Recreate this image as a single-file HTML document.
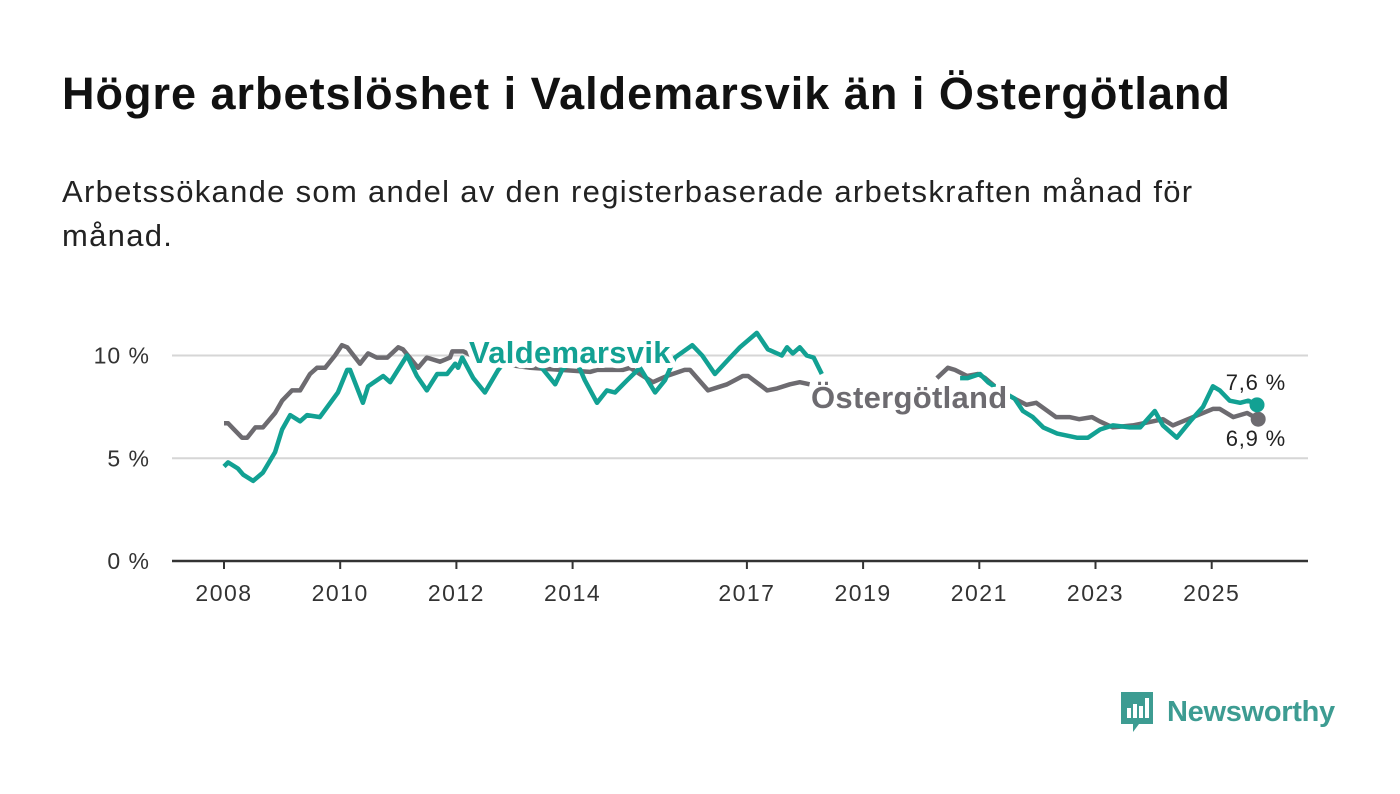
<!DOCTYPE html>
<html><head><meta charset="utf-8">
<style>
body{margin:0;width:1400px;height:794px;background:#fff;font-family:"Liberation Sans",sans-serif;overflow:hidden;position:relative}
h1{position:absolute;left:62px;top:68px;margin:0;font-size:45px;font-weight:bold;color:#111;letter-spacing:1px;white-space:nowrap}
.sub{position:absolute;left:62px;top:170px;margin:0;font-size:31px;line-height:44px;color:#222;width:1320px;letter-spacing:1.3px;white-space:nowrap}
svg{position:absolute;left:0;top:0}
</style></head><body>
<h1>Högre arbetslöshet i Valdemarsvik än i Östergötland</h1>
<p class="sub">Arbetssökande som andel av den registerbaserade arbetskraften månad för<br>månad.</p>
<svg id="chart" width="1400" height="794"></svg>
<div style="position:absolute;left:1119px;top:690px;display:flex;align-items:center">
 <svg width="36" height="44" style="position:static"><path d="M2 2h32v32h-14l-6 8v-8h-12z" fill="#3d9c92"/><rect x="8" y="18" width="4" height="10" fill="#fff"/><rect x="14" y="14" width="4" height="14" fill="#fff"/><rect x="20" y="16" width="4" height="12" fill="#fff"/><rect x="26" y="8" width="4" height="20" fill="#fff"/></svg>
 <span style="font-size:29px;color:#3d9c92;margin-left:12px;font-weight:bold;letter-spacing:-0.3px">Newsworthy</span>
</div>
<script>
const yTicks=[0,5,10];
const yTickLabels=["0 %","5 %","10 %"];
const xTicks=[2008,2010,2012,2014,2017,2019,2021,2023,2025];
const valdYears=[2008.0,2008.07,2008.24,2008.33,2008.5,2008.67,2008.88,2009.0,2009.14,2009.31,2009.43,2009.65,2009.96,2010.12,2010.17,2010.39,2010.48,2010.74,2010.86,2011.15,2011.32,2011.49,2011.67,2011.84,2011.98,2012.03,2012.1,2012.29,2012.49,2012.72,2012.92,2013.18,2013.44,2013.7,2013.82,2014.04,2014.21,2014.42,2014.59,2014.73,2014.94,2015.16,2015.42,2015.59,2015.76,2016.06,2016.23,2016.45,2016.71,2016.88,2017.17,2017.36,2017.6,2017.69,2017.79,2017.91,2018.03,2018.15,2018.29,2019.3,2020.67,2020.8,2021.01,2021.15,2021.36,2021.61,2021.75,2021.92,2022.1,2022.34,2022.68,2022.87,2023.08,2023.3,2023.59,2023.77,2024.02,2024.16,2024.4,2024.63,2024.85,2025.02,2025.14,2025.31,2025.49,2025.63,2025.78];
const valdValues=[4.6,4.8,4.5,4.2,3.9,4.3,5.3,6.4,7.1,6.8,7.1,7.0,8.2,9.3,9.3,7.7,8.5,9.0,8.7,10.0,9.0,8.3,9.1,9.1,9.6,9.4,9.9,8.9,8.2,9.3,10.0,10.3,9.5,8.6,9.3,9.9,8.8,7.7,8.3,8.2,8.8,9.4,8.2,8.8,9.9,10.5,10.0,9.1,9.9,10.4,11.1,10.3,10.0,10.4,10.1,10.4,10.0,9.9,9.1,null,8.9,8.9,9.1,8.7,8.3,7.9,7.3,7.0,6.5,6.2,6.0,6.0,6.4,6.6,6.5,6.5,7.3,6.6,6.0,6.8,7.5,8.5,8.3,7.8,7.7,7.8,7.6];
const ostYears=[2008.0,2008.07,2008.31,2008.4,2008.54,2008.67,2008.88,2009.0,2009.17,2009.31,2009.48,2009.6,2009.74,2009.91,2010.03,2010.12,2010.34,2010.48,2010.63,2010.81,2011.0,2011.08,2011.34,2011.49,2011.72,2011.89,2011.93,2012.12,2012.4,2012.75,2013.27,2013.8,2014.3,2014.42,2014.87,2014.99,2015.38,2015.62,2015.93,2016.02,2016.33,2016.66,2016.93,2017.02,2017.35,2017.52,2017.74,2017.91,2018.08,2019.3,2020.27,2020.46,2020.58,2020.79,2020.98,2021.1,2021.35,2021.61,2021.81,2021.98,2022.32,2022.55,2022.72,2022.94,2023.07,2023.3,2023.64,2023.99,2024.16,2024.33,2024.68,2025.02,2025.14,2025.37,2025.61,2025.8];
const ostValues=[6.7,6.7,6.0,6.0,6.5,6.5,7.2,7.8,8.3,8.3,9.1,9.4,9.4,10.0,10.5,10.4,9.6,10.1,9.9,9.9,10.4,10.3,9.4,9.9,9.7,9.9,10.2,10.2,9.8,9.6,9.4,9.3,9.2,9.3,9.3,9.4,8.7,9.0,9.3,9.3,8.3,8.6,9.0,9.0,8.3,8.4,8.6,8.7,8.6,null,8.9,9.4,9.3,9.0,9.1,8.9,8.3,7.9,7.6,7.7,7.0,7.0,6.9,7.0,6.8,6.5,6.6,6.8,6.9,6.6,7.0,7.4,7.4,7.0,7.2,6.9];
const X=yr=>224+(yr-2008)*58.1;
const Y=v=>561-v*20.55;
const svg=document.getElementById('chart');
const NS='http://www.w3.org/2000/svg';
function mk(tag,attrs,parent){const e=document.createElementNS(NS,tag);for(const k in attrs)e.setAttribute(k,attrs[k]);(parent||svg).appendChild(e);return e;}
yTicks.forEach((t,i)=>{
 const l=mk('line',{x1:172,x2:1308,y1:Y(t),y2:Y(t),stroke:t===0?'#333':'#d6d6d6','stroke-width':t===0?2.5:2});
 
 
 const tx=mk('text',{x:150,y:Y(t)+8,'text-anchor':'end','font-size':23,'letter-spacing':1,fill:'#333','font-family':'Liberation Sans, sans-serif'});
 tx.textContent=yTickLabels[i];
 
 
});
xTicks.forEach(t=>{
 const l=mk('line',{x1:X(t),x2:X(t),y1:562,y2:569,stroke:'#333','stroke-width':2});
 
 
 const tx=mk('text',{x:X(t),y:601,'text-anchor':'middle','font-size':23,'letter-spacing':1.5,fill:'#333','font-family':'Liberation Sans, sans-serif'});
 tx.textContent=t;
 
 
});
function pathFor(ys,vs){let d='',pen=false;ys.forEach((yr,i)=>{const v=vs[i];if(v===null){pen=false;return;}d+=(pen?'L':'M')+X(yr).toFixed(1)+' '+Y(v).toFixed(1);pen=true;});return d;}
const gp=mk('path',{d:pathFor(ostYears,ostValues),fill:'none',stroke:'#6d6b70','stroke-width':4.5,'stroke-linejoin':'round'});


const tp=mk('path',{d:pathFor(valdYears,valdValues),fill:'none',stroke:'#12a193','stroke-width':4.5,'stroke-linejoin':'round'});


const gl=ostYears.length-1, tl=valdYears.length-1;
const gd=mk('circle',{cx:X(ostYears[gl]),cy:Y(ostValues[gl]),r:7.5,fill:'#6d6b70'});


const td=mk('circle',{cx:X(valdYears[tl]),cy:Y(valdValues[tl]),r:7.5,fill:'#12a193'});


function lab(txt,x,y,col,name,w,anchor){
 const t=mk('text',{x:x,y:y,'font-size':w?31:22,'font-weight':w?'bold':'normal','letter-spacing':w?0.3:0.8,fill:col,'font-family':'Liberation Sans, sans-serif',stroke:'#fff','stroke-width':w?10:5,'paint-order':'stroke','stroke-linejoin':'round','text-anchor':anchor||'start'});
 t.textContent=txt;
 
 
}
lab('Valdemarsvik',469,363,'#12a193','valdemarsvik-label',true);
lab('Östergötland',811,408,'#6d6b70','ostergotland-label',true);
lab('7,6 %',1286,390,'#222','valdemarsvik-end-value',false,'end');
lab('6,9 %',1286,446,'#222','ostergotland-end-value',false,'end');
</script>
</body></html>
